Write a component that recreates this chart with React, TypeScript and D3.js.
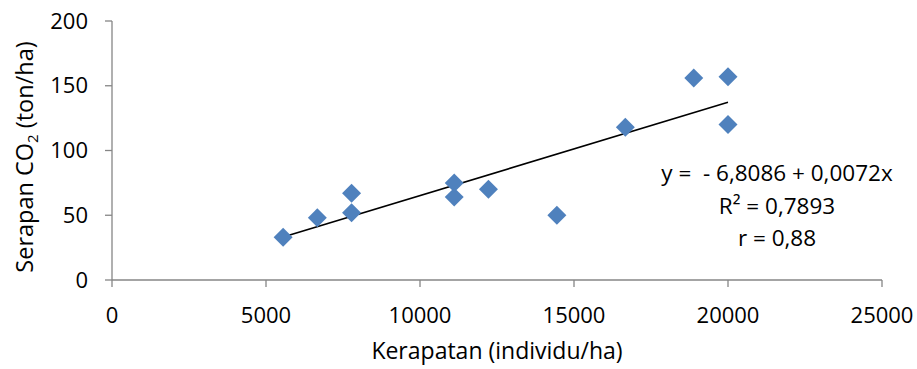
import React from "react";
import * as d3 from "d3";

const densities = [5556, 6667, 7778, 7778, 11111, 11111, 12222, 14444, 16667, 18889, 20000, 20000];
const co2 = [33, 48, 67, 52, 75, 64, 70, 50, 118, 156, 157, 120];
const xTicks = [0, 5000, 10000, 15000, 20000, 25000];
const yTicks = [0, 50, 100, 150, 200];
const intercept = -6.8086;
const slope = 0.0072;
const eqLines = ["y =  - 6,8086 + 0,0072x", "R² = 0,7893", "r = 0,88"];

const W = 917;
const H = 369;
const FONT = "'Open Sans', 'Liberation Sans', sans-serif";

export default function App() {
  const x = d3.scaleLinear().domain([0, 25000]).range([112, 882]);
  const y = d3.scaleLinear().domain([0, 200]).range([280, 21]);
  const axisColor = "#868686";
  const xMin = d3.min(densities) as number;
  const xMax = d3.max(densities) as number;
  const line = d3.line<number>().x((d) => x(d)).y((d) => y(intercept + slope * d));
  const diamond = d3.symbol().type(d3.symbolSquare).size(180)();
  return (
    <svg width={W} height={H} style={{ position: "absolute", left: 0, top: 0, background: "#fff" }}>
      <rect width={W} height={H} fill="#fff" />
      {/* axes */}
      <line x1={x(0)} x2={x(25000)} y1={y(0)} y2={y(0)} stroke={axisColor} strokeWidth={1.3} />
      <line x1={x(0)} x2={x(0)} y1={y(0)} y2={y(200)} stroke={axisColor} strokeWidth={1.3} />
      {xTicks.map((t) => (
        <g key={"xt" + t}>
          <line x1={x(t)} x2={x(t)} y1={y(0)} y2={y(0) + 7} stroke={axisColor} strokeWidth={1.3} />
          <text x={x(t)} y={323} textAnchor="middle" fontFamily={FONT} fontSize={22} fill="#000">
            {t}
          </text>
        </g>
      ))}
      {yTicks.map((t) => (
        <g key={"yt" + t}>
          <line x1={x(0) - 7} x2={x(0)} y1={y(t)} y2={y(t)} stroke={axisColor} strokeWidth={1.3} />
          <text x={88} y={y(t) + 7.5} textAnchor="end" fontFamily={FONT} fontSize={22} fill="#000">
            {t}
          </text>
        </g>
      ))}
      {/* trendline */}
      <path d={line([xMin, xMax]) || ""} stroke="#000" strokeWidth={1.6} fill="none" />
      {/* points */}
      {densities.map((d, i) => (
        <path
          key={"p" + i}
          d={diamond || ""}
          transform={`translate(${x(d)},${y(co2[i])}) rotate(45)`}
          fill="#4F81BD"
        />
      ))}
      {/* equation */}
      {eqLines.map((s, i) => (
        <text
          key={"eq" + i}
          x={777}
          y={181 + i * 32.5}
          textAnchor="middle"
          fontFamily={FONT}
          fontSize={22.5}
          fill="#000"
          style={{ whiteSpace: "pre" }}
        >
          {s}
        </text>
      ))}
      {/* axis titles */}
      <text x={497} y={359} textAnchor="middle" fontFamily={FONT} fontSize={23} fill="#000">
        Kerapatan (individu/ha)
      </text>
      <text
        transform={`translate(33,157) rotate(-90)`}
        textAnchor="middle"
        fontFamily={FONT}
        fontSize={23.5}
        fill="#000"
      >
        Serapan CO
        <tspan fontSize={15} dy={5}>2</tspan>
        <tspan dy={-5}> (ton/ha)</tspan>
      </text>
    </svg>
  );
}
